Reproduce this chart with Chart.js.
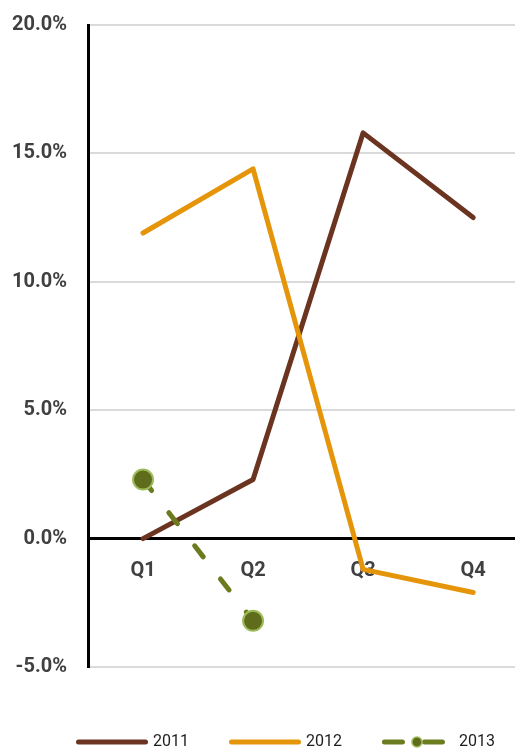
<!DOCTYPE html>
<html>
<head>
<meta charset="utf-8">
<script src="https://cdn.jsdelivr.net/npm/chart.js@4.4.1/dist/chart.umd.min.js"></script>
<style>
    html, body { margin: 0; padding: 0; background: #fff; overflow: hidden; }
    canvas { display: block; }
</style>
</head>
<body>
<canvas id="myChart" width="515" height="751"></canvas>
<script>
const quarters = ['Q1', 'Q2', 'Q3', 'Q4'];
const years = ['2011', '2012', '2013'];
const growth2011 = [0.0, 2.3, 15.8, 12.5];
const growth2012 = [11.9, 14.4, -1.2, -2.1];
const growth2013 = [2.3, -3.2];
const yTicks = [-5, 0, 5, 10, 15, 20];

const COLORS = {
    brown: '#6B3420',
    orange: '#E5950A',
    olive: '#6B7C1E',
    oliveFill: '#5E6C1B',
    oliveEdge: '#9DBB5A'
};

Chart.defaults.font.family = 'Roboto';

// quarter index -> x value 1..4 on a linear axis
const toPoints = values => values.map((v, i) => ({x: i + 1, y: v}));

// no extra room for label overhang, the layout padding handles it
const noOverhang = scale => {
    scale.paddingLeft = 0;
    scale.paddingRight = 0;
    scale.paddingTop = 0;
    scale.paddingBottom = 0;
};

// legend drawn by hand so the dashed series can show its marker
const seriesKey = {
    id: 'seriesKey',
    afterDraw(chart) {
        const ctx = chart.ctx;
        const y = 742;
        let x = 76;
        ctx.save();
        ctx.font = '16px Roboto';
        ctx.textBaseline = 'middle';
        chart.data.datasets.forEach(ds => {
            const dashed = ds.borderDash && ds.borderDash.length > 0;
            const len = dashed ? 63 : 72;
            ctx.lineWidth = 5;
            ctx.lineCap = 'round';
            ctx.strokeStyle = ds.borderColor;
            ctx.setLineDash(dashed ? [18, 22] : []);
            ctx.beginPath();
            ctx.moveTo(x + 2.5, y);
            ctx.lineTo(x + len - 2.5, y);
            ctx.stroke();
            ctx.setLineDash([]);
            if (ds.pointRadius) {
                ctx.beginPath();
                ctx.arc(x + 35, y, 5, 0, Math.PI * 2);
                ctx.fillStyle = ds.pointBackgroundColor;
                ctx.fill();
                ctx.lineWidth = 1.5;
                ctx.strokeStyle = ds.pointBorderColor;
                ctx.stroke();
            }
            ctx.fillStyle = '#1e1e1e';
            ctx.textAlign = 'left';
            ctx.fillText(ds.label, x + 77, y);
            x += 77 + ctx.measureText(ds.label).width + 40;
        });
        ctx.restore();
    }
};

new Chart(document.getElementById('myChart'), {
    type: 'line',
    plugins: [seriesKey],
    data: {
        datasets: [
            {
                label: years[0],
                data: toPoints(growth2011),
                borderColor: COLORS.brown,
                borderWidth: 5,
                borderCapStyle: 'round',
                borderJoinStyle: 'round',
                pointRadius: 0,
                order: 3
            },
            {
                label: years[1],
                data: toPoints(growth2012),
                borderColor: COLORS.orange,
                borderWidth: 5,
                borderCapStyle: 'round',
                borderJoinStyle: 'round',
                pointRadius: 0,
                order: 2
            },
            {
                label: years[2],
                data: toPoints(growth2013),
                borderColor: COLORS.olive,
                borderWidth: 5,
                borderDash: [14, 28],
                borderCapStyle: 'round',
                pointRadius: 10,
                pointBackgroundColor: COLORS.oliveFill,
                pointBorderColor: COLORS.oliveEdge,
                pointBorderWidth: 2,
                order: 1
            }
        ]
    },
    options: {
        responsive: false,
        animation: false,
        layout: {
            autoPadding: false,
            padding: {top: 25, right: 0, bottom: 84, left: 0}
        },
        plugins: {
            legend: {display: false},
            tooltip: {enabled: false}
        },
        scales: {
            x: {
                type: 'linear',
                position: {y: 0},
                min: 0.5,
                max: 4.38,
                afterBuildTicks: scale => {
                    scale.ticks = quarters.map((q, i) => ({value: i + 1}));
                },
                afterFit: noOverhang,
                grid: {display: false, drawTicks: false},
                border: {color: '#000', width: 3},
                ticks: {
                    padding: 20,
                    color: '#404040',
                    font: {size: 20, weight: 'bold'},
                    callback: v => quarters[v - 1] || ''
                }
            },
            y: {
                min: -5,
                max: 20,
                afterBuildTicks: scale => {
                    scale.ticks = yTicks.map(v => ({value: v}));
                },
                afterFit: scale => {
                    scale.width = 88;
                    noOverhang(scale);
                },
                grid: {color: '#DADADA', lineWidth: 2, drawTicks: false},
                border: {color: '#000', width: 3},
                ticks: {
                    padding: 21,
                    color: '#404040',
                    font: {size: 20, weight: 'bold'},
                    callback: v => v.toFixed(1) + '%'
                }
            }
        }
    }
});
</script>
</body>
</html>
